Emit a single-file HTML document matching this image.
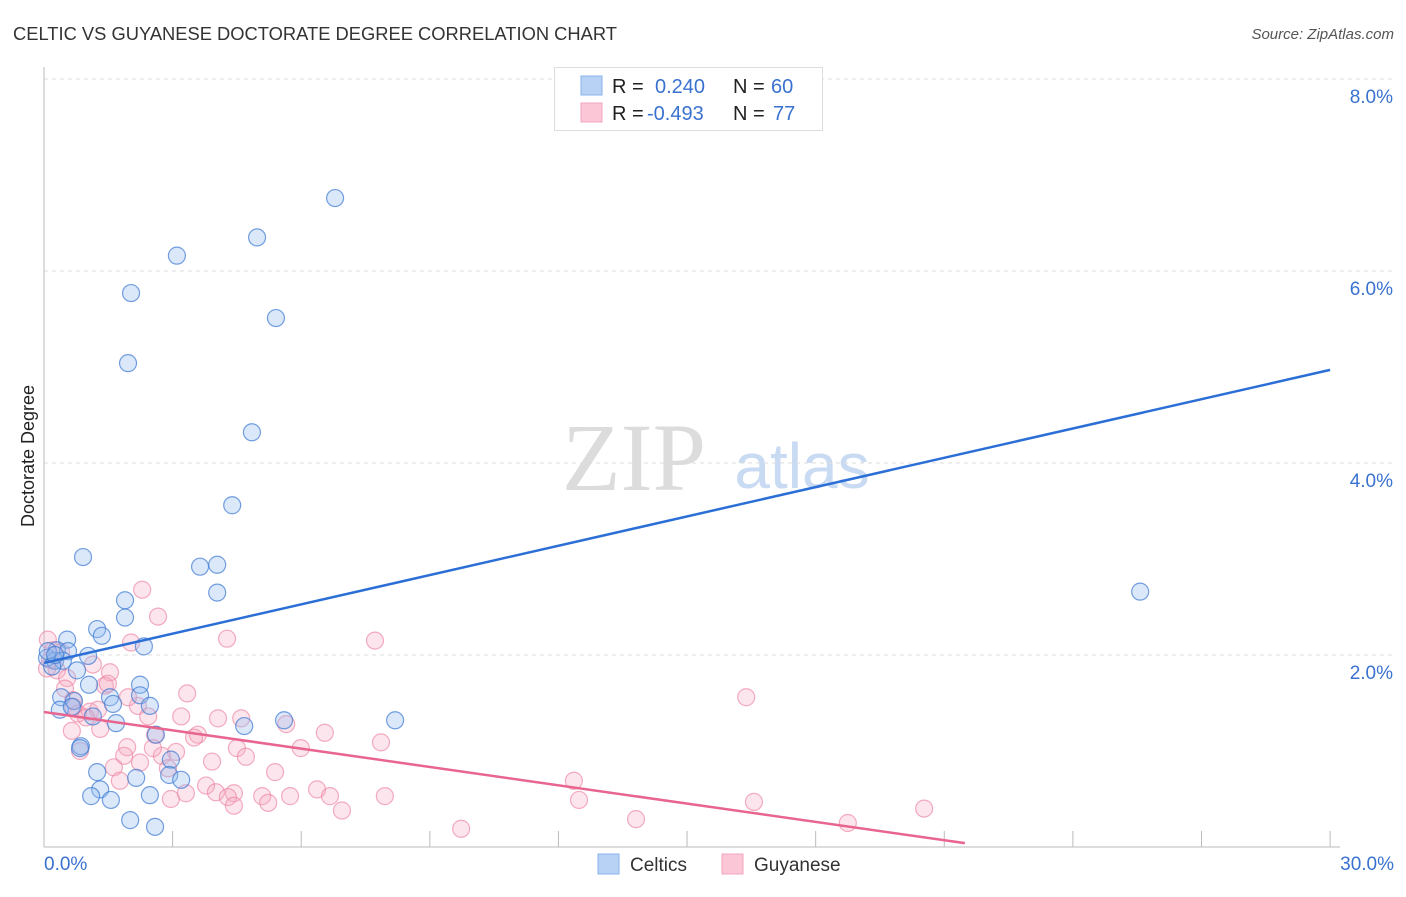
<!DOCTYPE html>
<html><head><meta charset="utf-8"><style>
body{margin:0;background:#fff;font-family:"Liberation Sans",sans-serif;}
svg text{font-family:"Liberation Sans",sans-serif;}
svg text.serif{font-family:"Liberation Serif",serif;}
</style></head><body>
<svg id="chart" width="1406" height="892" xmlns="http://www.w3.org/2000/svg">
<text x="13" y="40" font-size="18" fill="#333" textLength="604" lengthAdjust="spacingAndGlyphs">CELTIC VS GUYANESE DOCTORATE DEGREE CORRELATION CHART</text>
<text x="1394" y="39" font-size="15" fill="#555" font-style="italic" text-anchor="end">Source: ZipAtlas.com</text>
<text x="34" y="456" font-size="18" fill="#222" text-anchor="middle" transform="rotate(-90 34 456)">Doctorate Degree</text>
<g>
<text class="serif" x="634" y="490" font-size="96" fill="#dcdcdc" text-anchor="middle">ZIP</text>
<text x="802" y="488" font-size="64" fill="#c9daf3" text-anchor="middle">atlas</text>
</g>
<g id="grid"></g>
<g id="axes"></g>
<g id="pts"></g>
<g id="lines"></g>
<g>
<rect x="554.5" y="67.5" width="268" height="63" fill="#fff" stroke="#ddd"/>
<rect x="581" y="76" width="21" height="19" fill="#b7d2f5" stroke="#8ab3ea"/>
<rect x="581" y="103" width="21" height="19" fill="#fbc7d6" stroke="#f2a6bd"/>
<text x="612" y="93" font-size="20" fill="#222">R = </text><text x="655" y="93" font-size="20" fill="#3a72d0">0.240</text>
<text x="733" y="93" font-size="20" fill="#222">N = </text><text x="771" y="93" font-size="20" fill="#3a72d0">60</text>
<text x="612" y="120" font-size="20" fill="#222">R = </text><text x="647" y="120" font-size="20" fill="#3a72d0">-0.493</text>
<text x="733" y="120" font-size="20" fill="#222">N = </text><text x="773" y="120" font-size="20" fill="#3a72d0">77</text>
</g>
<g>
<rect x="598" y="854" width="21" height="20" fill="#b7d2f5" stroke="#8ab3ea"/>
<text x="630" y="871" font-size="19" fill="#333">Celtics</text>
<rect x="722" y="854" width="21" height="20" fill="#fbc7d6" stroke="#f2a6bd"/>
<text x="754" y="871" font-size="19" fill="#333">Guyanese</text>
</g>
</svg>
<script>
const yTicks=[2,4,6,8];
const yTickLabels=["2.0%","4.0%","6.0%","8.0%"];
const xTicks=[3,6,9,12,15,18,21,24,27,30];
const celticX=[6.79,4.97,3.10,2.03,5.41,1.96,4.85,4.39,0.91,3.64,4.04,4.04,1.89,1.89,1.24,1.35,2.33,0.54,0.30,0.56,0.07,0.26,1.03,0.44,0.77,1.05,2.24,0.40,1.54,2.24,0.70,1.61,2.47,0.37,0.65,1.14,1.68,4.67,5.60,8.19,2.61,0.86,2.96,1.24,2.15,2.92,3.20,1.31,1.10,1.56,2.47,2.01,2.59,25.57,0.09,0.19,0.26,0.84];
const celticY=[6.76,6.35,6.16,5.77,5.51,5.04,4.32,3.56,3.02,2.92,2.94,2.65,2.57,2.39,2.27,2.20,2.09,2.16,2.05,2.04,1.97,1.94,1.99,1.94,1.84,1.69,1.69,1.56,1.56,1.58,1.52,1.49,1.47,1.43,1.46,1.36,1.29,1.26,1.32,1.32,1.17,1.05,0.91,0.78,0.72,0.75,0.70,0.60,0.53,0.49,0.54,0.28,0.21,2.66,2.04,1.88,2.00,1.03];
const guyX=[2.29,2.66,0.09,2.03,4.27,7.72,0.21,0.30,1.14,1.54,0.54,1.42,1.49,3.34,16.38,0.49,0.68,1.07,1.26,2.19,2.43,3.20,4.06,4.60,5.65,0.79,0.98,1.31,0.65,2.59,3.59,3.50,1.94,3.08,2.75,2.54,4.50,5.99,6.55,7.86,0.84,1.87,4.71,3.92,2.24,1.63,1.77,2.89,5.39,3.78,4.43,4.01,5.09,5.74,6.37,6.67,7.95,12.36,12.48,4.29,5.23,2.96,3.31,6.95,4.43,9.73,13.81,16.56,18.75,20.53,1.96,0.68,0.07,0.14,0.40];
const guyY=[2.68,2.40,2.16,2.13,2.17,2.15,2.05,1.84,1.90,1.82,1.76,1.68,1.70,1.60,1.56,1.65,1.53,1.41,1.43,1.47,1.36,1.36,1.34,1.34,1.28,1.39,1.35,1.23,1.21,1.17,1.17,1.14,1.04,0.99,0.95,1.03,1.03,1.03,1.19,1.09,1.00,0.95,0.94,0.89,0.88,0.83,0.69,0.82,0.78,0.64,0.56,0.57,0.53,0.53,0.60,0.53,0.53,0.69,0.49,0.52,0.46,0.50,0.56,0.38,0.43,0.19,0.29,0.47,0.25,0.40,1.56,1.46,1.86,1.95,2.03];
const celticTrend=[1.917,4.97]; // y at x=0 and x=30
const guyTrend=[1.406,0.04,21.48]; // y at x=0, y at end, end x
const NS="http://www.w3.org/2000/svg";
const X=v=>44+v*42.87, Y=v=>847-v*96;
function mk(t,a,p){const e=document.createElementNS(NS,t);for(const k in a)e.setAttribute(k,a[k]);p.appendChild(e);return e;}
const grid=document.getElementById('grid');
yTicks.forEach((t,i)=>{
 const l=mk('line',{x1:44,x2:1393,y1:Y(t),y2:Y(t),stroke:'#ddd','stroke-dasharray':'4,4'},grid);
 
 
 const tx=mk('text',{x:1393,y:Y(t)+24,'font-size':19,fill:'#3a72d0','text-anchor':'end'},grid);
 tx.textContent=yTickLabels[i];
 
 
});
const ax=document.getElementById('axes');
mk('line',{x1:44,x2:44,y1:67,y2:847,stroke:'#bbb'},ax);
mk('line',{x1:44,x2:1340,y1:847,y2:847,stroke:'#bbb'},ax);
xTicks.forEach(t=>{const l=mk('line',{x1:X(t),x2:X(t),y1:831,y2:847,stroke:'#bbb'},ax);
 
 });
const x0=mk('text',{x:44,y:870,'font-size':19,fill:'#3a72d0'},ax);x0.textContent='0.0%';


const x1=mk('text',{x:1394,y:870,'font-size':19,fill:'#3a72d0','text-anchor':'end'},ax);x1.textContent='30.0%';


const pts=document.getElementById('pts');
guyX.forEach((v,i)=>{const c=mk('circle',{cx:X(v),cy:Y(guyY[i]),r:8.5,fill:'rgba(246,168,192,0.3)',stroke:'rgba(236,130,162,0.65)','stroke-width':1.2},pts);
 
 });
celticX.forEach((v,i)=>{const c=mk('circle',{cx:X(v),cy:Y(celticY[i]),r:8.5,fill:'rgba(150,190,240,0.35)',stroke:'rgba(60,120,210,0.7)','stroke-width':1.2},pts);
 
 });
const ln=document.getElementById('lines');
const b=mk('line',{x1:X(0),y1:Y(celticTrend[0]),x2:X(30),y2:Y(celticTrend[1]),stroke:'#2b6fd6','stroke-width':2.5},ln);


const p=mk('line',{x1:X(0),y1:Y(guyTrend[0]),x2:X(guyTrend[2]),y2:Y(guyTrend[1]),stroke:'#e8658f','stroke-width':2.5},ln);


</script>
</body></html>
